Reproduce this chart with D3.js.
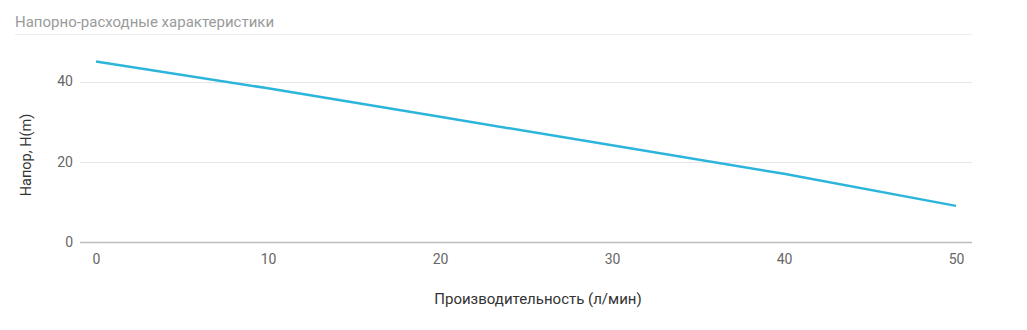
<!DOCTYPE html>
<html>
<head>
<meta charset="utf-8">
<script src="https://cdn.jsdelivr.net/npm/d3@7"></script>
<style>
  body { margin: 0; background: #fff; }
  text { font-family: Roboto, "Noto Sans", sans-serif; }
</style>
</head>
<body>
<div id="chart"></div>
<script>
// flow (l/min) vs head (m)
var flow = [0, 10, 20, 30, 40, 50];
var head = [45, 38.3, 31.2, 24.1, 17, 9];
var xTicks = [0, 10, 20, 30, 40, 50];
var yTicks = [0, 20, 40];

var width = 1027, height = 330;

var svg = d3.select("#chart").append("svg")
    .attr("width", width)
    .attr("height", height);

var x = d3.scaleLinear().domain([0, 50]).range([96, 956]);
var y = d3.scaleLinear().domain([0, 40]).range([242, 81.5]);
var plotLeft = 80, plotRight = 972;

// title + underline
svg.append("text")
    .attr("x", 15).attr("y", 27)
    .attr("font-size", 15)
    .attr("fill", "#9a9a9a")
    .text("Напорно-расходные характеристики");
svg.append("line")
    .attr("x1", 15).attr("x2", plotRight)
    .attr("y1", 34.5).attr("y2", 34.5)
    .attr("stroke", "#ececec");

// grid
svg.append("g").selectAll("line")
    .data(yTicks.filter(function (d) { return d > 0; }))
    .enter().append("line")
    .attr("x1", plotLeft).attr("x2", plotRight)
    .attr("y1", function (d) { return Math.round(y(d)) + 0.5; })
    .attr("y2", function (d) { return Math.round(y(d)) + 0.5; })
    .attr("stroke", "#e6e6e6");

// y axis labels
var yAxis = d3.axisLeft(y).tickValues(yTicks).tickSize(0).tickPadding(0);
svg.append("g")
    .attr("transform", "translate(73,0)")
    .call(yAxis)
    .call(function (g) { g.select(".domain").remove(); })
    .selectAll("text")
    .attr("font-size", 14)
    .attr("fill", "#666")
    .attr("font-family", "Roboto, sans-serif");

// x axis
var xAxis = d3.axisBottom(x).tickValues(xTicks).tickSize(0).tickPadding(0);
svg.append("g")
    .attr("transform", "translate(0,254)")
    .call(xAxis)
    .call(function (g) { g.select(".domain").remove(); })
    .selectAll("text")
    .attr("font-size", 14)
    .attr("fill", "#666")
    .attr("font-family", "Roboto, sans-serif");

svg.append("line")
    .attr("x1", plotLeft).attr("x2", plotRight)
    .attr("y1", Math.round(y(0)) + 0.5).attr("y2", Math.round(y(0)) + 0.5)
    .attr("stroke", "#bdbdbd")
    .attr("stroke-width", 1.5);

// axis titles
svg.append("text")
    .attr("text-anchor", "middle")
    .attr("transform", "translate(31,155) rotate(-90)")
    .attr("font-size", 14.5)
    .attr("fill", "#333")
    .text("Напор, H(m)");
svg.append("text")
    .attr("x", 538).attr("y", 304)
    .attr("text-anchor", "middle")
    .attr("font-size", 15)
    .attr("fill", "#333")
    .text("Производительность (л/мин)");

// series
var line = d3.line()
    .x(function (d, i) { return x(flow[i]); })
    .y(function (d) { return y(d); });
svg.append("path")
    .datum(head)
    .attr("d", line)
    .attr("fill", "none")
    .attr("stroke", "#2cb5da")
    .attr("stroke-width", 2.5);
</script>
</body>
</html>
